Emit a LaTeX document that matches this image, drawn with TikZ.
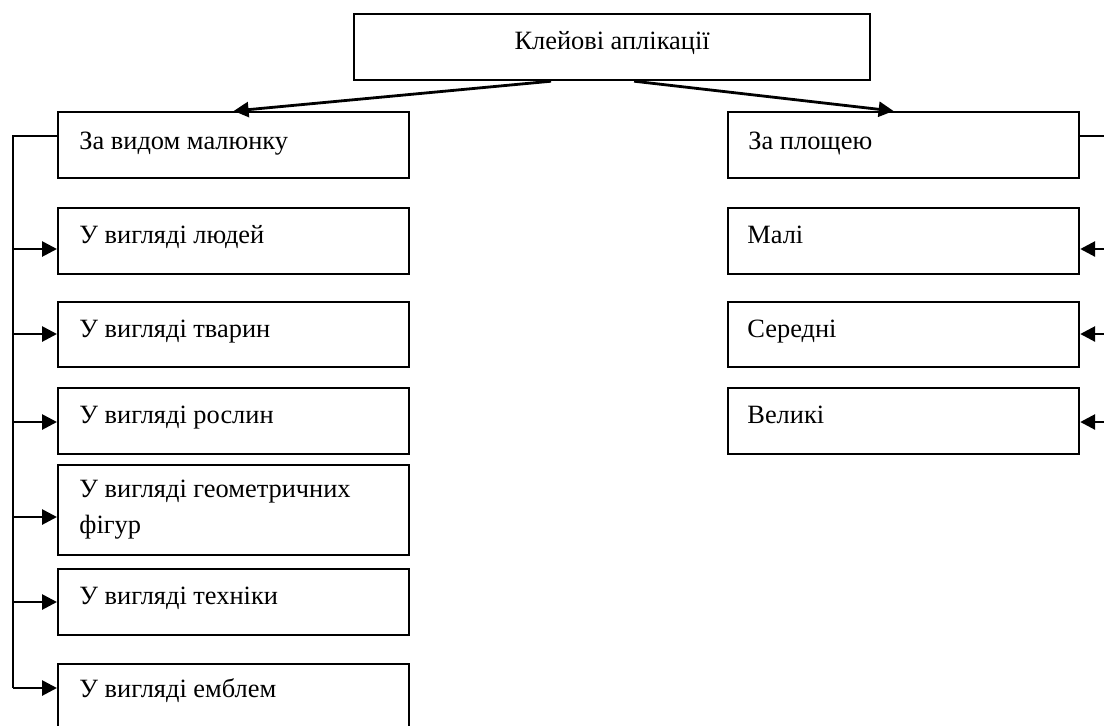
\documentclass[tikz,border=0pt]{standalone}
\usepackage{fontspec}
\setmainfont{Liberation Serif}
\usetikzlibrary{arrows.meta,calc}
\begin{document}
\begin{tikzpicture}[x=0.5pt,y=-0.5pt,
  cbox/.style={draw,line width=1.1pt,rectangle,inner sep=0pt,anchor=north west,minimum width=351*0.5pt,minimum height=66*0.5pt},
  lbl/.style={anchor=base west,inner sep=0pt,align=left,font=\fontsize{13.2}{18}\selectfont},
  arr/.style={line width=1.4pt,-{Triangle[length=7.5pt,width=7.5pt]}},
  ln/.style={line width=1.1pt,line join=miter}]
\useasboundingbox (0,0) rectangle (1104,725);
\clip (0,0) rectangle (1104,725);
% top
\node[cbox,minimum width=516*0.5pt] (T) at (353,13) {};
\node[lbl,anchor=base] (tT) at ($(T.north)+(0,36)$) {Клейові аплікації};
% second level
\node[cbox] (L) at (57,111) {};
\node[lbl] (tL) at ($(L.north west)+(22,38)$) {За видом малюнку};
\node[cbox] (R) at (727,111) {};
\node[lbl] (tR) at ($(R.north west)+(21,38)$) {За площею};
% left children
\node[cbox] (B1) at (57,207) {};
\node[cbox,minimum height=65*0.5pt] (B2) at (57,301) {};
\node[cbox] (B3) at (57,387) {};
\node[cbox,minimum height=90*0.5pt] (B4) at (57,464) {};
\node[cbox] (B5) at (57,568) {};
\node[cbox,minimum height=90*0.5pt] (B6) at (57,663) {};
\node[lbl] (t1) at ($(B1.north west)+(22,36)$) {У вигляді людей};
\node[lbl] (t2) at ($(B2.north west)+(22,36)$) {У вигляді тварин};
\node[lbl] (t3) at ($(B3.north west)+(22,36)$) {У вигляді рослин};
\node[lbl] (t4) at ($(B4.north west)+(22,69)$) {У вигляді геометричних\\фігур};
\node[lbl] (t5) at ($(B5.north west)+(22,36)$) {У вигляді техніки};
\node[lbl] (t6) at ($(B6.north west)+(22,34)$) {У вигляді емблем};
% right children
\node[cbox] (R1) at (727,207) {};
\node[cbox,minimum height=65*0.5pt] (R2) at (727,301) {};
\node[cbox] (R3) at (727,387) {};
\node[lbl] (r1) at ($(R1.north west)+(20,36)$) {Малі};
\node[lbl] (r2) at ($(R2.north west)+(20,36)$) {Середні};
\node[lbl] (r3) at ($(R3.north west)+(20,36)$) {Великі};
% top connectors
\draw[arr] ($(T.south)+(-61,0)$) -- (L.north);
\draw[arr] ($(T.south)+(22,0)$) -- ($(R.north)+(-10,0)$);
% left bus
\coordinate (lt) at (13,136);
\coordinate (lb) at (13,688);
\draw[ln] (L.west |- lt) -- (lt) -- (lb);
\foreach \n/\y in {B1/249,B2/334,B3/422,B4/517,B5/602,B6/688}{
  \coordinate (c\n) at (13,\y);
  \draw[arr] (c\n) -- (c\n -| \n.west);
}
% right bus
\coordinate (rt) at (1110,136);
\coordinate (rb) at (1110,422);
\draw[ln] (R.east |- rt) -- (rt) -- (rb);
\foreach \n/\y in {R1/249,R2/334,R3/422}{
  \coordinate (d\n) at (1110,\y);
  \draw[arr] (d\n) -- (d\n -| \n.east);
}
\end{tikzpicture}
\end{document}
